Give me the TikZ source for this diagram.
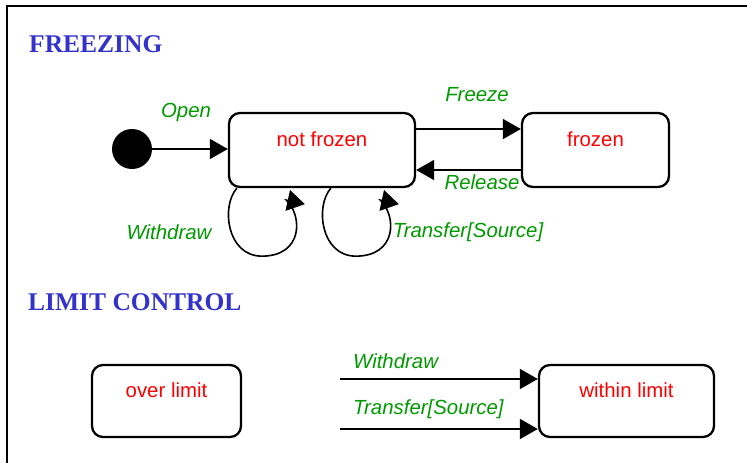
\documentclass[tikz,border=0pt]{standalone}
\usepackage{fontspec}
\setmainfont{Liberation Serif}
\newfontfamily\arialfont{Liberation Sans}
\usetikzlibrary{arrows.meta,calc}
\definecolor{headblue}{RGB}{51,51,204}
\definecolor{evgreen}{RGB}{0,153,0}
\begin{document}
\begin{tikzpicture}[x=1pt,y=-1pt,
  statebox/.style={draw,line width=2.3pt,rounded corners=11pt,fill=white,
    font=\arialfont\fontsize{20.4}{24}\selectfont,text=red,
    text height=15pt,text depth=23pt,inner sep=0pt},
  evlabel/.style={font=\arialfont\itshape\fontsize{20.4}{24}\selectfont,text=evgreen,inner sep=0pt},
  heading/.style={font=\bfseries\fontsize{25.5}{30}\selectfont,text=headblue,inner sep=0pt,anchor=base west},
  arr/.style={line width=1.6pt,-{Triangle[length=18pt,width=20pt]}},
  loop/.style={line width=1.6pt,-{Triangle[length=17.5pt,width=21pt]}}]
\useasboundingbox (0,0) rectangle (747,463);
% outer frame
\draw[line width=2pt] (7,6) rectangle (760,475);

% headings
\node[heading] (h1) at (29,52) {FREEZING};
\node[heading] (h2) at (28,310) {LIMIT CONTROL};

% freezing states
\node[circle,fill=black,minimum size=40pt,inner sep=0pt] (init) at (132,149) {};
\node[statebox,minimum width=186pt,minimum height=74pt] (nf) at (322,150) {not frozen};
\node[statebox,minimum width=147pt,minimum height=74pt] (fz) at (595.5,150) {frozen};

\draw[arr] (init.east) -- (init.east -| nf.west);
\draw[arr] ([yshift=21pt]nf.east) -- ([yshift=21pt]nf.east -| fz.west);
\draw[arr] ([yshift=-20pt]fz.west) -- ([yshift=-20pt]fz.west -| nf.east);

% self transitions below "not frozen" (coordinates relative to its lower left corner)
\begin{scope}[shift={(nf.south west)}]
  \draw[loop] (9,0) .. controls (-7,18) and (-1,68) .. (34,68)
    .. controls (75,68) and (75,28) .. (58.5,12) -- (77,16);
\end{scope}
\begin{scope}[shift={([xshift=94pt]nf.south west)}]
  \draw[loop] (9,0) .. controls (-7,18) and (-1,68) .. (34,68)
    .. controls (75,68) and (75,28) .. (58.5,12) -- (77,16);
\end{scope}

\node[evlabel] (lopen) at (186,112) {Open};
\node[evlabel] (lfreeze) at (477,95) {Freeze};
\node[evlabel] (lrelease) at (482,182) {Release};
\node[evlabel] (lwd) at (169,232) {Withdraw};
\node[evlabel] (ltr) at (468,232) {Transfer[Source]};

% limit control states
\node[statebox,minimum width=149pt,minimum height=72pt] (ol) at (166.5,401) {over limit};
\node[statebox,minimum width=175pt,minimum height=72pt] (wl) at (626.5,401) {within limit};

\coordinate (s1) at (340,379);
\coordinate (s2) at (340,429);
\draw[arr] (s1) -- (s1 -| wl.west);
\draw[arr] (s2) -- (s2 -| wl.west);
\node[evlabel,anchor=west] (lwd2) at (353,361) {Withdraw};
\node[evlabel,anchor=west] (ltr2) at (353,409) {Transfer[Source]};
\end{tikzpicture}
\end{document}
